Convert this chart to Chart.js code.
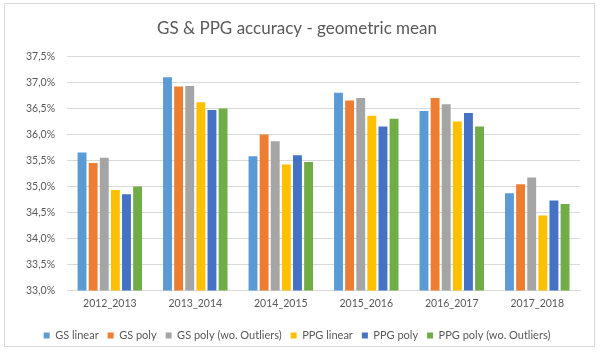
<!DOCTYPE html>
<html><head><meta charset="utf-8">
<script src="https://cdn.jsdelivr.net/npm/chart.js@4/dist/chart.umd.min.js"></script>
<style>
html,body{margin:0;padding:0;background:#fff;}
#frame{position:absolute;left:4px;top:3px;width:591px;height:344px;border:1px solid #d9d9d9;box-sizing:border-box;pointer-events:none;}
#c{display:block;position:absolute;left:5px;top:4px;}
</style></head><body>
<canvas id="c" width="589" height="347"></canvas>
<div id="frame"></div>
<script>
const categories = ["2012_2013","2013_2014","2014_2015","2015_2016","2016_2017","2017_2018"];
const seriesNames = ["GS linear","GS poly","GS poly (wo. Outliers)","PPG linear","PPG poly","PPG poly (wo. Outliers)"];
const gsLinear   = [35.65, 37.10, 35.58, 36.80, 36.45, 34.87];
const gsPoly     = [35.45, 36.92, 36.00, 36.65, 36.70, 35.04];
const gsPolyWo   = [35.55, 36.93, 35.87, 36.70, 36.58, 35.17];
const ppgLinear  = [34.93, 36.62, 35.42, 36.36, 36.25, 34.44];
const ppgPoly    = [34.85, 36.47, 35.60, 36.15, 36.41, 34.73];
const ppgPolyWo  = [35.00, 36.50, 35.47, 36.30, 36.15, 34.66];
const colors = ["#5B9BD5","#ED7D31","#A5A5A5","#FFC000","#4472C4","#70AD47"];
const allSeries = [gsLinear, gsPoly, gsPolyWo, ppgLinear, ppgPoly, ppgPolyWo];
const fontFam = "Lato, 'Open Sans', sans-serif";
new Chart(document.getElementById('c'), {
  type: 'bar',
  data: {
    labels: categories,
    datasets: allSeries.map((d,i)=>({label: seriesNames[i], data: d, backgroundColor: colors[i], borderWidth: 0,
      categoryPercentage: 0.78, barPercentage: 0.8}))
  },
  options: {
    responsive: false,
    animation: false,
    layout: {padding: {left: 9, right: 14, top: 11, bottom: 0}},
    plugins: {
      title: {display: true, text: 'GS & PPG accuracy - geometric mean', color: '#595959',
        font: {family: fontFam, size: 17, weight: 'normal'}, padding: {top: 3, bottom: 18}},
      legend: {position: 'bottom', labels: {color: '#595959', font: {family: fontFam, size: 11},
        boxWidth: 6, boxHeight: 6, padding: 9}},
      tooltip: {enabled: false}
    },
    scales: {
      x: {grid: {display: false, tickLength: 0}, border: {color: '#d9d9d9'},
        afterFit: s => { s.height += 4; },
        ticks: {color: '#595959', font: {family: fontFam, size: 10.5}, padding: 7}},
      y: {min: 33, max: 37.5, grid: {color: '#d9d9d9', drawTicks: false}, border: {display: false},
        ticks: {stepSize: 0.5, color: '#595959', font: {family: fontFam, size: 10.5}, padding: 12,
          callback: v => v.toFixed(1).replace('.', ',') + '%'}}
    }
  }
});
</script>
</body></html>
